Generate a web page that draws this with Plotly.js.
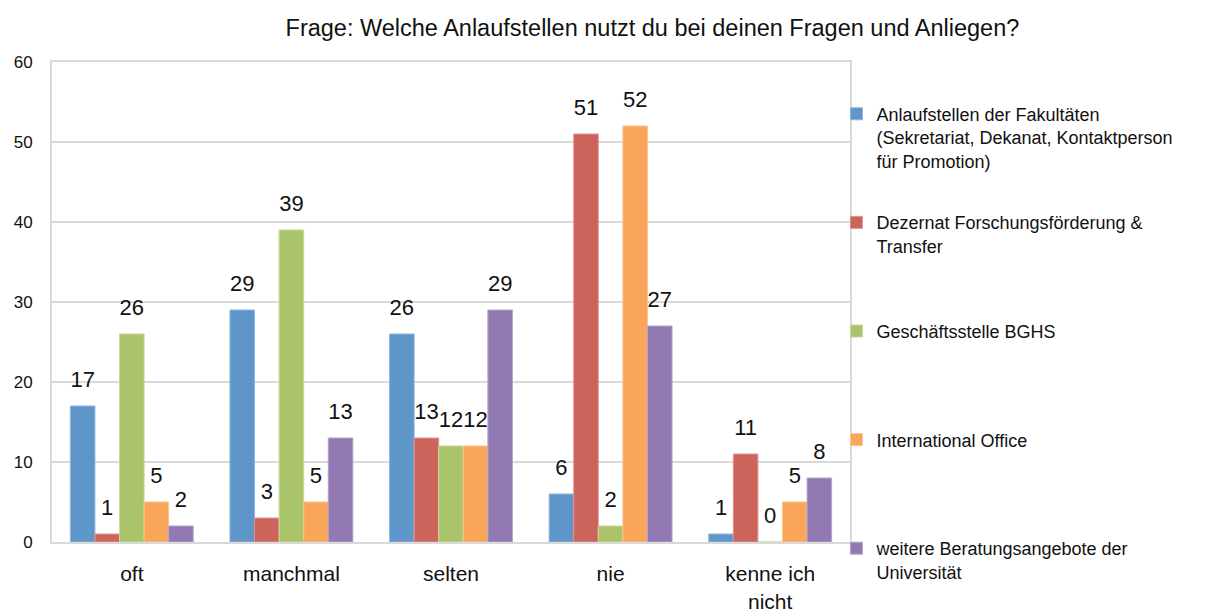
<!DOCTYPE html>
<html>
<head>
<meta charset="utf-8">
<script src="https://cdn.plot.ly/plotly-3.0.1.min.js"></script>
<style>html,body{margin:0;padding:0;background:#fff;}#chart{width:1206px;height:613px;}</style>
</head>
<body>
<div id="chart"></div>
<script>
const categories = ["oft", "manchmal", "selten", "nie", "kenne ich<br>nicht"];
const seriesNames = [
  "Anlaufstellen der Fakultäten<br>(Sekretariat, Dekanat, Kontaktperson<br>für Promotion)",
  "Dezernat Forschungsförderung &<br>Transfer",
  "Geschäftsstelle BGHS",
  "International Office",
  "weitere Beratungsangebote der<br>Universität"
];
const fakultaeten = [17, 29, 26, 6, 1];
const dezernat = [1, 3, 13, 51, 11];
const bghs = [26, 39, 12, 2, 0];
const international = [5, 5, 12, 52, 5];
const weitere = [2, 13, 29, 27, 8];
const yTicks = [0, 10, 20, 30, 40, 50, 60];

const seriesValues = [fakultaeten, dezernat, bghs, international, weitere];
const colors = ["#5f96c9", "#cd645c", "#aac46b", "#f9a65a", "#9279b2"];
const lineColors = ["#8fb5dc", "#e0948e", "#c8d99c", "#fbc48f", "#b6a4cc"];
const FONT = "Liberation Sans, Arial, sans-serif";
const LABEL_GAP = 1.4; // data units of empty space between bar top and its label

// pad legend entries (except the last) to equal line counts for even spacing
function padLines(name, total) {
  const n = name.split("<br>").length;
  let s = name;
  for (let i = n; i < total; i++) s += "<br>\u00a0";
  return s;
}

const traces = [];
seriesValues.forEach((vals, i) => {
  traces.push({
    type: "bar",
    x: categories,
    y: vals,
    name: i < seriesValues.length - 1 ? padLines(seriesNames[i], 4) : seriesNames[i],
    offsetgroup: "g" + i,
    legendgroup: "g" + i,
    marker: {color: colors[i], line: {color: lineColors[i], width: 1}},
    hoverinfo: "x+y+name"
  });
});
// transparent spacer bars carrying the value labels just above each bar
seriesValues.forEach((vals, i) => {
  traces.push({
    type: "bar",
    x: categories,
    y: vals.map(() => LABEL_GAP),
    base: vals,
    offsetgroup: "g" + i,
    legendgroup: "g" + i,
    showlegend: false,
    marker: {color: "rgba(0,0,0,0)", line: {width: 0}},
    text: vals.map(String),
    textposition: "outside",
    constraintext: "none",
    textfont: {size: 22, color: "#111", family: FONT},
    cliponaxis: false,
    hoverinfo: "skip"
  });
});

const layout = {
  width: 1206,
  height: 613,
  paper_bgcolor: "#fff",
  plot_bgcolor: "#fff",
  font: {family: FONT, color: "#111"},
  margin: {l: 52, r: 356, t: 62, b: 71, pad: 0, autoexpand: false},
  title: {
    text: "Frage: Welche Anlaufstellen nutzt du bei deinen Fragen und Anliegen?",
    font: {size: 23.5, color: "#111"},
    x: 0.541, xanchor: "center", y: 0.955, yanchor: "middle"
  },
  barmode: "group",
  bargap: 0.23,
  bargroupgap: 0,
  xaxis: {
    type: "category",
    showgrid: false,
    showline: true, mirror: true, linecolor: "#d9d9d9", linewidth: 2,
    ticks: "",
    tickfont: {size: 21, color: "#111"},
    ticklabelstandoff: 12,
    fixedrange: true
  },
  yaxis: {
    range: [0, 60],
    tickvals: yTicks,
    ticktext: yTicks.map(String),
    showgrid: true, gridcolor: "#d9d9d9", gridwidth: 2,
    showline: true, mirror: true, linecolor: "#d9d9d9", linewidth: 2,
    zeroline: false,
    ticks: "",
    tickfont: {size: 17, color: "#111"},
    ticklabelstandoff: 14,
    fixedrange: true
  },
  showlegend: true,
  legend: {
    x: 0.983, xanchor: "left",
    y: 0.93, yanchor: "top",
    maxheight: 560,
    font: {size: 18, color: "#111"},
    tracegroupgap: 12,
    valign: "top",
    itemclick: false,
    bgcolor: "rgba(0,0,0,0)"
  }
};

Plotly.newPlot("chart", traces, layout, {displayModeBar: false, staticPlot: true});
</script>
</body>
</html>
